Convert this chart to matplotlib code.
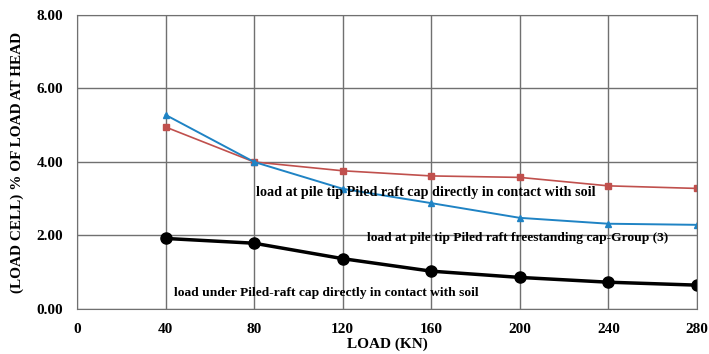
import matplotlib.pyplot as plt
import numpy as np

plt.rcParams.update({'font.family': 'serif',
                     'font.serif': ['Liberation Serif', 'DejaVu Serif'],
                     'font.weight': 'bold', 'font.size': 10})

load = [40, 80, 120, 160, 200, 240, 280]
tip_contact = [4.95, 4.00, 3.76, 3.62, 3.58, 3.35, 3.28]
tip_freestanding = [5.28, 4.00, 3.27, 2.88, 2.48, 2.32, 2.29]
under_cap = [1.92, 1.79, 1.37, 1.03, 0.86, 0.73, 0.65]

x_ticks = [0, 40, 80, 120, 160, 200, 240, 280]
y_ticks = [0, 2, 4, 6, 8]

fig = plt.figure(figsize=(7.09, 3.54), dpi=100)
ax = fig.add_axes([0.1086, 0.127, 0.8744, 0.831])

ax.plot(load, tip_contact, color='#c0504d', lw=1.2, marker='s', markersize=5)
ax.plot(load, tip_freestanding, color='#1f83c4', lw=1.4, marker='^', markersize=5)
ax.plot(load, under_cap, color='black', lw=2.5, marker='o', markersize=8)

ax.set_xlim(0, 280)
ax.set_ylim(0, 8)
ax.set_xticks(x_ticks)
ax.set_yticks(y_ticks, ['%.2f' % v for v in y_ticks])
ax.grid(True, color='#707070', lw=1.0)
ax.set_axisbelow(True)
for s in ax.spines.values():
    s.set_color('#707070')
ax.tick_params(length=0, pad=10, labelsize=11)

ax.set_xlabel('LOAD (KN)', fontsize=11, fontweight='bold', labelpad=1)
ax.set_ylabel('(LOAD CELL) % OF LOAD AT HEAD', fontsize=11, fontweight='bold', labelpad=9)

ax.text(81, 3.16, 'load at pile tip Piled raft cap directly in contact with soil',
        fontsize=10.2, ha='left', va='center')
ax.text(131, 1.94, 'load at pile tip Piled raft freestanding cap-Group (3)',
        fontsize=9.7, ha='left', va='center')
ax.text(44, 0.44, 'load under Piled-raft cap directly in contact with soil',
        fontsize=9.7, ha='left', va='center')

fig.savefig('out.png', dpi=100)
